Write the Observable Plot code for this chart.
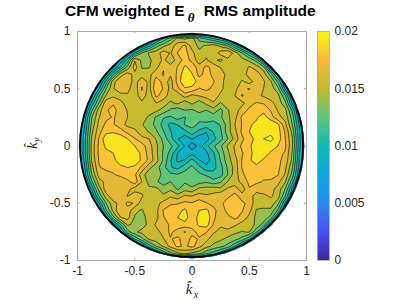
<!DOCTYPE html>
<html><head><meta charset="utf-8">
<script src="https://cdn.jsdelivr.net/npm/d3@7"></script>
<script src="https://cdn.jsdelivr.net/npm/@observablehq/plot@0.6"></script>
<style>
html,body{margin:0;padding:0;background:#fff}
#stage{position:relative;width:407px;height:305px;overflow:hidden;font-family:"Liberation Sans",sans-serif}
#stage svg{position:absolute;left:0;top:0;background:transparent}
#title{position:absolute;left:65px;top:2px;font:bold 15.5px "Liberation Sans",sans-serif;color:#000;white-space:pre}
#title i{font:italic bold 13px "Liberation Serif",serif;position:relative;top:6px;margin:0 5px 0 3px}
</style></head><body>
<div id="stage"><div id="title">CFM weighted E<i>θ</i> RMS amplitude</div></div>
<script>
// Chart values (units of 1e-4), rows from ky=+1 down to ky=-1, centred in a 33-column grid (kx -1..1)
const titleTicks = [-1,-0.5,0,0.5,1];
const barTicks = [0,0.005,0.01,0.015,0.02];
const unit = 1e-4;
const gridSize = 33;
const yp100 = [60];
const yp094 = [85,105,125,148,140,150,125,115,105,95,80];
const yp088 = [80,100,125,140,150,162,172,150,140,145,150,140,130,105,80];
const yp081 = [75,105,130,145,150,162,155,170,174,160,146,152,145,162,168,150,130,105,75];
const yp075 = [80,110,155,140,140,150,158,150,160,176,165,148,158,146,140,152,155,148,140,125,85];
const yp069 = [75,105,135,162,142,142,152,168,160,170,184,178,162,172,165,155,148,152,147,158,150,135,80];
const yp063 = [80,115,150,162,152,148,152,165,170,158,172,192,183,165,174,166,168,148,152,148,162,163,150,125,85];
const yp056 = [70,110,152,166,165,150,166,152,176,165,150,174,194,190,176,174,170,160,150,146,158,150,162,158,145,115,75];
const yp050 = [90,130,155,165,160,148,170,150,180,168,152,166,180,178,168,172,166,160,148,152,166,170,158,156,150,135,90];
const yp044 = [75,115,145,154,150,154,146,166,146,172,162,150,146,162,152,156,160,166,152,146,156,170,164,158,155,150,148,120,75];
const yp038 = [95,130,166,168,160,150,148,152,148,156,150,140,146,134,146,136,146,154,142,150,146,152,164,170,168,160,150,135,90];
const yp031 = [70,115,150,168,172,165,155,150,152,150,146,138,128,122,130,128,135,130,138,126,142,150,162,172,178,178,168,155,148,115,70];
const yp025 = [85,130,155,166,170,165,156,150,150,140,128,118,115,122,116,128,120,128,122,128,140,152,172,182,180,188,175,160,152,125,80];
const yp019 = [90,135,160,172,170,162,152,150,144,136,126,112,100,105,118,122,115,112,112,118,136,156,170,180,185,190,195,185,160,130,90];
const yp013 = [95,140,165,178,180,175,165,160,148,142,132,118,105,92,100,112,100,92,105,115,138,152,172,182,183,192,192,188,168,140,92];
const yp006 = [100,145,170,192,195,192,182,170,160,156,142,126,108,92,82,92,82,85,100,112,130,148,166,178,185,195,198,190,170,145,95];
const y000 = [100,148,172,185,190,190,190,182,175,162,146,130,120,108,90,65,85,100,115,128,145,158,172,180,188,192,190,182,172,145,95];
const ym006 = [100,148,172,178,182,192,194,192,178,164,146,128,112,90,82,88,80,88,102,122,140,156,168,175,192,190,180,172,168,142,92];
const ym013 = [95,145,170,172,178,190,192,195,178,166,148,128,105,88,92,108,92,85,98,118,138,150,170,180,188,180,175,172,165,140,90];
const ym019 = [90,138,168,172,172,178,182,178,166,146,136,122,105,100,112,120,108,95,100,112,132,148,170,178,178,175,178,172,160,132,85];
const ym025 = [85,130,162,165,168,172,178,172,148,136,134,128,120,118,122,130,120,115,108,112,130,150,165,180,172,172,178,170,155,125,80];
const ym031 = [70,115,150,160,165,160,165,176,156,138,132,124,130,122,128,120,125,128,122,128,144,150,160,172,172,168,165,160,145,110,70];
const ym038 = [95,135,165,165,165,160,150,152,146,146,136,140,128,138,134,146,148,150,146,158,162,148,168,160,165,160,152,130,90];
const ym044 = [75,120,150,165,165,155,165,158,146,152,146,154,148,158,156,162,158,160,168,166,174,162,160,152,152,158,150,118,75];
const ym050 = [90,130,152,160,172,168,148,146,152,160,168,168,172,170,176,170,164,165,177,180,172,165,148,150,150,135,90];
const ym056 = [70,115,148,168,165,145,142,150,152,170,172,177,185,170,182,185,174,160,174,178,170,160,142,140,140,115,75];
const ym063 = [85,125,155,160,142,138,148,152,168,175,182,190,170,188,192,172,160,165,172,165,152,140,138,125,85];
const ym069 = [80,115,145,140,135,148,158,160,172,178,176,172,185,188,168,158,166,158,150,150,140,125,80];
const ym075 = [85,125,140,148,145,152,160,172,162,155,166,172,170,158,152,150,146,142,145,120,85];
const ym081 = [75,105,125,145,150,155,168,172,162,172,168,160,148,145,140,135,125,105,75];
const ym088 = [80,110,130,145,160,172,166,174,160,148,140,135,125,105,80];
const ym094 = [85,105,125,140,148,140,135,120,110,95,80];
const ym100 = [60];
const rimValue = 60;
const rimRadius = 0.98;
const rows = [yp100,yp094,yp088,yp081,yp075,yp069,yp063,yp056,yp050,yp044,yp038,yp031,yp025,yp019,yp013,yp006,y000,
  ym006,ym013,ym019,ym025,ym031,ym038,ym044,ym050,ym056,ym063,ym069,ym075,ym081,ym088,ym094,ym100];
const field = rows.flatMap(r => {
  const pad = new Array((gridSize - r.length) / 2).fill(rimValue);
  return [...pad, ...r, ...pad].map(v => v * unit);
});
const levelStep = 0.0013;
const levels = d3.range(1, 16).map(k => k * levelStep);
const parula = ["#3e26a8","#4752f5","#2a8dea","#0ca8d8","#13b8b5","#5fc67a","#c2b92f","#fbb93d","#fbdc25","#f8fa10"];
const stops = [0,.125,.25,.375,.5,.625,.75,.875,.9375,1];
const colorFn = t => {
  const i = Math.max(0, d3.bisectRight(stops, t) - 1), j = Math.min(stops.length - 1, i + 1);
  return d3.interpolateRgb(parula[i], parula[j])(i === j ? 0 : (t - stops[i]) / (stops[j] - stops[i]));
};
const half = 1 / (gridSize - 1);
const grey = "#a8a8a8", ink = "#262626";
const tickFmt = d => String(d);

const disk = (index, scales, values, dimensions, context, next) => {
  const g = next(index, scales, values, dimensions, context);
  const cx = scales.x(0), cy = scales.y(0), r = (scales.x(1) - cx) * rimRadius;
  const clip = d3.create("svg:clipPath").attr("id", "disk");
  clip.append("circle").attr("cx", cx).attr("cy", cy).attr("r", r);
  const wrap = d3.create("svg:g");
  wrap.node().append(clip.node());
  g.setAttribute("clip-path", "url(#disk)");
  wrap.node().append(g);
  wrap.append("circle").attr("cx", cx).attr("cy", cy).attr("r", r - 0.6).attr("fill", "none").attr("stroke", "#000").attr("stroke-width", 1.8);
  return wrap.node();
};

const main = Plot.plot({
  width:407, height:305, marginLeft:77, marginRight:101, marginTop:31, marginBottom:45,
  style:{background:"transparent"},
  x:{domain:[-1,1], axis:null}, y:{domain:[-1,1], axis:null},
  color:{type:"linear", domain:[-0.0009,0.0191], interpolate:colorFn},
  marks:[
    Plot.contour(field,{width:gridSize,height:gridSize,x1:-1-half,x2:1+half,y1:1+half,y2:-1-half,
      value:Plot.identity, thresholds:levels, fill:"value", stroke:"#000", strokeWidth:0.6, render:disk}),
    Plot.frame({stroke:grey, strokeWidth:1}),
    Plot.ruleX(titleTicks,{y1:-1,y2:-0.98,stroke:grey}),
    Plot.ruleX(titleTicks,{y1:1,y2:0.98,stroke:grey}),
    Plot.ruleY(titleTicks,{x1:-1,x2:-0.98,stroke:grey}),
    Plot.ruleY(titleTicks,{x1:1,x2:0.98,stroke:grey}),
    Plot.axisX({ticks:titleTicks,tickFormat:tickFmt,tickSize:0,tickPadding:6,label:null,anchor:"bottom",fontSize:12,fontFamily:"Liberation Sans, sans-serif",color:ink}),
    Plot.axisY({ticks:titleTicks,tickFormat:tickFmt,tickSize:0,tickPadding:7,label:null,anchor:"left",fontSize:12,fontFamily:"Liberation Sans, sans-serif",color:ink}),
    Plot.text(["k̂"],{frameAnchor:"bottom",dy:33,dx:-3,fontSize:15,fontStyle:"italic",fontFamily:"Liberation Serif, serif",fill:ink}),
    Plot.text(["x"],{frameAnchor:"bottom",dy:37,dx:4,fontSize:10,fontStyle:"italic",fontFamily:"Liberation Serif, serif",fill:ink}),
    Plot.text(["k̂"],{frameAnchor:"left",dx:-45,dy:3,rotate:-90,fontSize:15,fontStyle:"italic",fontFamily:"Liberation Serif, serif",fill:ink}),
    Plot.text(["y"],{frameAnchor:"left",dx:-41,dy:-4,rotate:-90,fontSize:10,fontStyle:"italic",fontFamily:"Liberation Serif, serif",fill:ink})
  ]
});

const barValues = d3.range(0, 0.02, 0.0001);
const bar = Plot.plot({
  width:407, height:305, marginLeft:317, marginRight:78, marginTop:31, marginBottom:45,
  style:{background:"transparent"},
  x:{domain:[0,1],axis:null}, y:{domain:[0,0.02],axis:null},
  color:{type:"linear", domain:[0,0.02], interpolate:colorFn},
  marks:[
    Plot.rect(barValues,{x1:0,x2:1,y1:d=>d,y2:d=>Math.min(d+0.0003,0.02),fill:d=>d,shapeRendering:"crispEdges"}),
    Plot.frame({stroke:grey,strokeWidth:0.8}),
    Plot.axisY({ticks:barTicks,tickFormat:tickFmt,anchor:"right",tickSize:0,tickPadding:5,label:null,fontSize:12,fontFamily:"Liberation Sans, sans-serif",color:ink})
  ]
});
const stage = document.getElementById("stage");
stage.append(main, bar);
</script>
</body></html>
